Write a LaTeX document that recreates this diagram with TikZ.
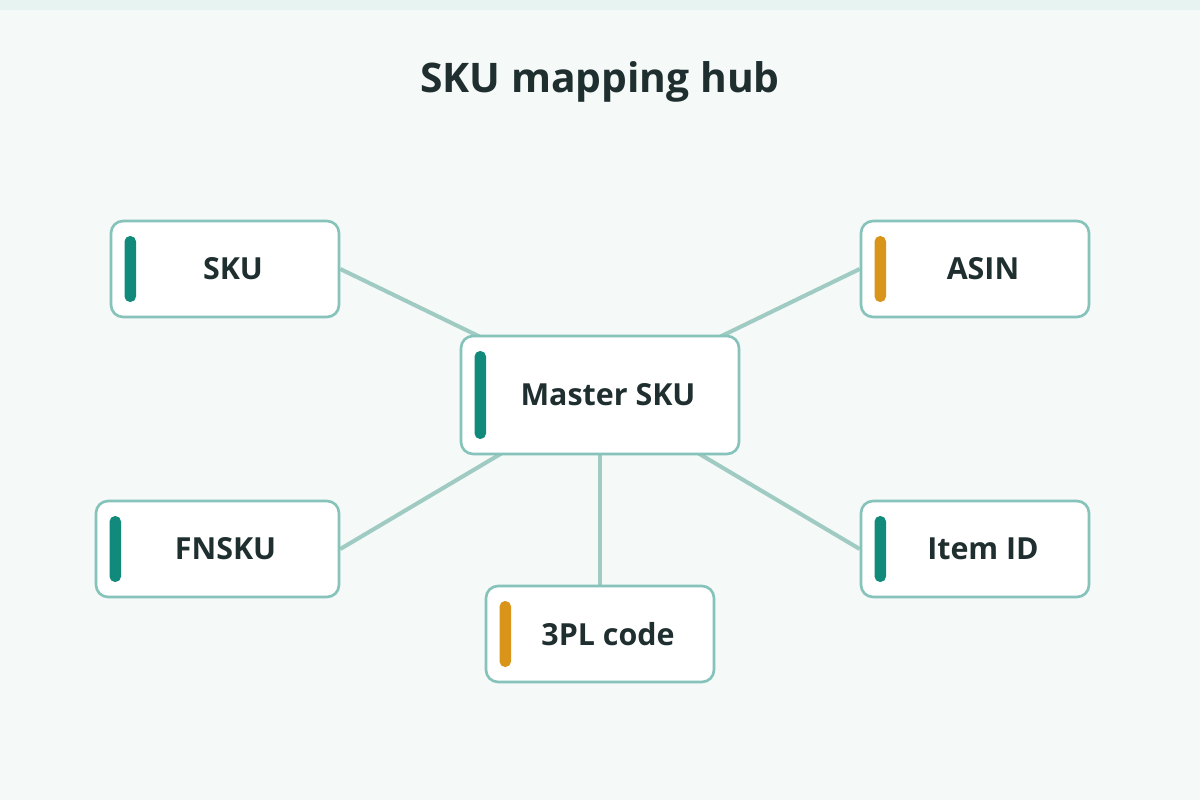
\documentclass[tikz,border=0pt]{standalone}
\usepackage{fontspec}
\setmainfont{Open Sans}
\usetikzlibrary{positioning, backgrounds}
\definecolor{pagebg}{HTML}{F5F9F8}
\definecolor{bandbg}{HTML}{E7F3F1}
\definecolor{boxline}{HTML}{86C3BB}
\definecolor{linkline}{HTML}{9FCBC3}
\definecolor{tealbar}{HTML}{128A7B}
\definecolor{amberbar}{HTML}{D9951A}
\definecolor{inkdark}{HTML}{1F2E2E}
\tikzset{
    idbox/.style = {draw=boxline, line width=1.5pt, fill=white, rounded corners=0.24cm,
        minimum width=4.56cm, minimum height=1.92cm, text=inkdark,
        font=\fontsize{17.3}{20}\selectfont\bfseries,
        execute at begin node={\hspace*{0.32cm}}},
    barred/.style = {path picture={
        \fill[#1, rounded corners=0.11cm]
            ([xshift=0.27cm, yshift=-0.3cm]path picture bounding box.north west)
            rectangle ([xshift=0.5cm, yshift=0.3cm]path picture bounding box.south west);}},
    link/.style = {draw=linkline, line width=2.3pt},
}
\begin{document}
\begin{tikzpicture}[x=0.02cm, y=-0.02cm]
        \useasboundingbox (0, 0) rectangle (1200, 800);
        \node[anchor=base] (title) at (600, 93) {\fontsize{23.2}{27}\selectfont\bfseries\color{inkdark}SKU mapping hub};

        \node[idbox, barred=tealbar, minimum width=5.56cm, minimum height=2.36cm] (hub) at (600, 395) {Master SKU};
        \node[idbox, barred=tealbar] (sku) at (225, 269) {SKU};
        \node[idbox, barred=amberbar] (asin) at (975, 269) {ASIN};
        \node[idbox, barred=tealbar, minimum width=4.86cm] (fnsku) at (217.5, 549) {FNSKU};
        \node[idbox, barred=tealbar] (itemid) at (975, 549) {Item ID};
        \node[idbox, barred=amberbar] (tpl) at (600, 634) {3PL code};

        \begin{scope}[on background layer]
            \fill[pagebg] (0, 0) rectangle (1200, 800);
            \fill[bandbg] (0, 0) rectangle (1200, 10);
            \draw[link] (sku.east) -- (hub.center);
            \draw[link] (asin.west) -- (hub.center);
            \draw[link] (fnsku.east) -- (hub.center);
            \draw[link] (itemid.west) -- (hub.center);
            \draw[link] (tpl.north) -- (hub.center);
        \end{scope}
    \end{tikzpicture}
\end{document}
